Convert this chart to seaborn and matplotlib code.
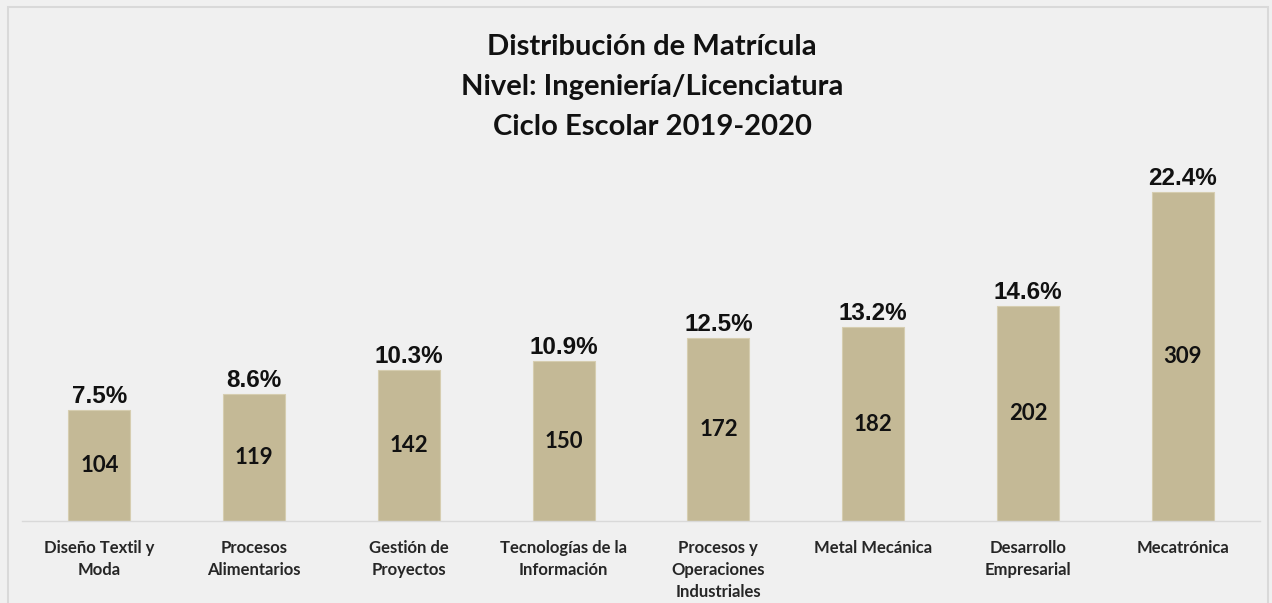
import matplotlib
matplotlib.use("Agg")
import matplotlib.pyplot as plt
import seaborn as sns
import pandas as pd
from matplotlib.patches import Rectangle

categories = ["Diseño Textil y\nModa", "Procesos\nAlimentarios", "Gestión de\nProyectos",
              "Tecnologías de la\nInformación", "Procesos y\nOperaciones\nIndustriales",
              "Metal Mecánica", "Desarrollo\nEmpresarial", "Mecatrónica"]
counts = [104, 119, 142, 150, 172, 182, 202, 309]
title_lines = ["Distribución de Matrícula", "Nivel: Ingeniería/Licenciatura", "Ciclo Escolar 2019-2020"]

sns.set_theme(style="white")
plt.rcParams['font.family'] = ['Lato', 'DejaVu Sans']

bg = "#f0f0f0"
bar_color = "#c4b996"

fig = plt.figure(figsize=(12.72, 6.03), dpi=100, facecolor=bg)
fig.patches.append(Rectangle((8/1272, -0.01), (1268-8)/1272, 1 - 7/603 + 0.01,
                             transform=fig.transFigure, fill=False,
                             edgecolor="#d9d9d9", linewidth=1.5))
ax = fig.add_axes([22/1272, (603-521)/603, 1238/1272, 361/603])
ax.set_facecolor(bg)

df = pd.DataFrame({"cat": categories, "n": counts})
sns.barplot(data=df, x="cat", y="n", color=bar_color, width=0.4, ax=ax, saturation=1,
            edgecolor="#d6cdb0", linewidth=0.8)
ax.set_xlim(-0.5, len(categories) - 0.5)
ax.set_ylim(0, 361/1.065)

total = sum(counts)
for i, v in enumerate(counts):
    ax.text(i, v / 2, f"{v}", ha="center", va="center", fontsize=16,
            fontweight="bold", color="#111111")
    ax.text(i, v + 2, f"{v/total*100:.1f}%", ha="center", va="bottom", fontsize=17.5,
            fontweight="bold", color="#111111", family=["Liberation Sans", "DejaVu Sans"])

ax.set_xlabel("")
ax.set_ylabel("")
ax.set_yticks([])
ax.tick_params(axis="x", length=0, pad=14)
for lab in ax.get_xticklabels():
    lab.set_fontsize(12)
    lab.set_fontweight("bold")
    lab.set_color("#262626")
    lab.set_linespacing(1.45)
for s in ["left", "right", "top"]:
    ax.spines[s].set_visible(False)
ax.spines["bottom"].set_color("#d9d9d9")
ax.spines["bottom"].set_linewidth(1)

for k, line in enumerate(title_lines):
    fig.text(652/1272, 1 - (47 + 40*k)/603, line, ha="center", va="center",
             fontsize=21, fontweight="bold", color="#111111")

fig.savefig("out.png", dpi=100, facecolor=bg)
